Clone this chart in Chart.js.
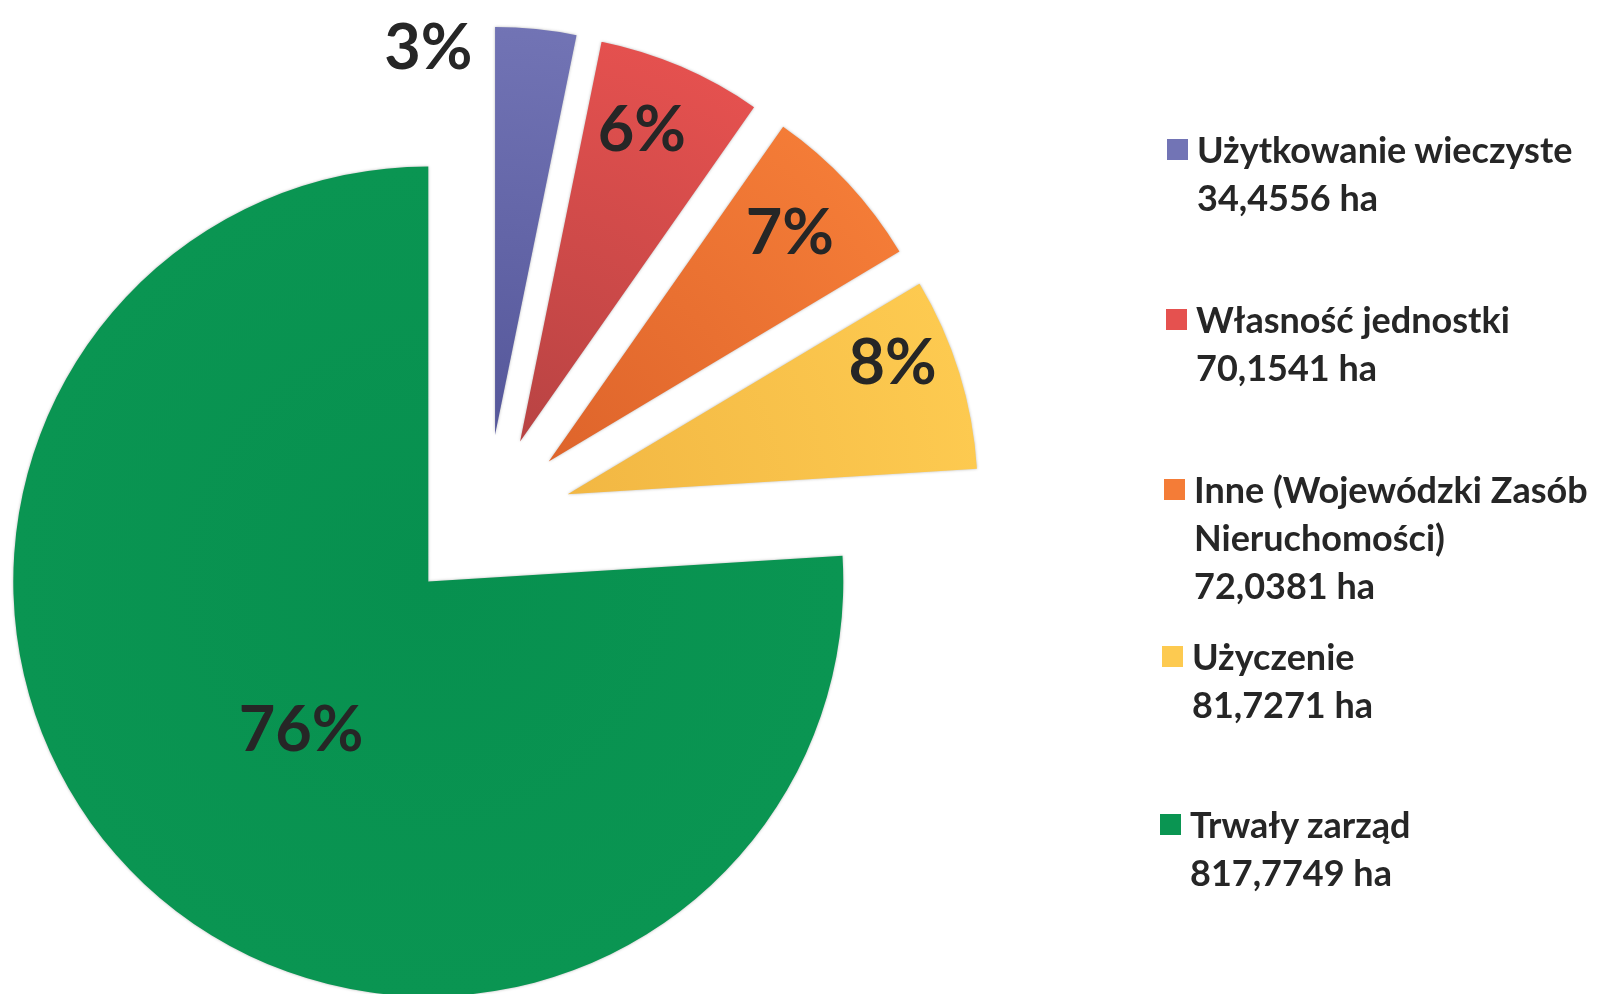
<!DOCTYPE html>
<html lang="pl">
<head>
<meta charset="utf-8">
<title>Struktura gruntów</title>
<script src="https://cdn.jsdelivr.net/npm/chart.js@4.4.1/dist/chart.umd.min.js"></script>
<style>
  html, body { margin: 0; padding: 0; background: #fff; }
  #wrap { position: relative; width: 1605px; height: 994px; overflow: hidden; }
  #wykres { position: absolute; left: 0; top: 0; }
  .leg {
    position: absolute;
    font-family: Lato, "Open Sans", sans-serif;
    font-weight: 700;
    font-size: 36px;
    line-height: 48px;
    color: #262626;
    white-space: nowrap;
  }
  .leg .sq { position: absolute; width: 21px; height: 21px; left: -30px; top: 14px; }
</style>
</head>
<body>
<div id="wrap">
  <canvas id="wykres" width="1605" height="994"></canvas>
  <div id="legenda"></div>
</div>
<script>
// dane z wykresu
const kategorie = ['Użytkowanie wieczyste', 'Własność jednostki', 'Inne (Wojewódzki Zasób Nieruchomości)', 'Użyczenie', 'Trwały zarząd'];
const powierzchnia = [34.4556, 70.1541, 72.0381, 81.7271, 817.7749]; // ha
const etykietyProcent = ['3%', '6%', '7%', '8%', '76%'];

// kolory: [przy środku, przy krawędzi]
const kolory = [
  ['#55579a', '#7274b5'],
  ['#b84343', '#e5514f'],
  ['#de642b', '#f47c37'],
  ['#f2b743', '#fdca50'],
  ['#07904f', '#0a9552']
];

// legenda (html) - linie tekstu i położenie
const legendaLinie = [
  ['Użytkowanie wieczyste'],
  ['Własność jednostki'],
  ['Inne (Wojewódzki Zasób', 'Nieruchomości)'],
  ['Użyczenie'],
  ['Trwały zarząd']
];
const legendaUklad = [
  { lewo: 1197, gora: 125 },
  { lewo: 1196, gora: 295 },
  { lewo: 1194, gora: 465 },
  { lewo: 1192, gora: 632 },
  { lewo: 1190, gora: 800 }
];

const ODSTEP = 85; // rozsunięcie kawałków

function ha(v) {
  return v.toFixed(4).replace('.', ',') + ' ha';
}

const legenda = document.getElementById('legenda');
kategorie.forEach((k, i) => {
  const el = document.createElement('div');
  el.className = 'leg';
  el.style.left = legendaUklad[i].lewo + 'px';
  el.style.top = legendaUklad[i].gora + 'px';
  const sq = document.createElement('span');
  sq.className = 'sq';
  sq.style.background = kolory[i][1];
  el.appendChild(sq);
  const linie = legendaLinie[i].concat([ha(powierzchnia[i])]);
  linie.forEach(t => {
    const d = document.createElement('div');
    d.textContent = t;
    el.appendChild(d);
  });
  legenda.appendChild(el);
});

// rysuje każdy kawałek przesunięty od środka (małe kawałki trochę krótsze)
const rozsuniecie = {
  id: 'rozsuniecie',
  beforeDatasetsDraw(chart, args, opts) {
    const ctx = chart.ctx;
    chart.getDatasetMeta(0).data.forEach((arc, i) => {
      const kat = (arc.startAngle + arc.endAngle) / 2;
      const r0 = arc.outerRadius;
      arc.outerRadius = r0 * opts.skala[i];
      ctx.save();
      ctx.translate(Math.cos(kat) * opts.odstep, Math.sin(kat) * opts.odstep);
      ctx.shadowColor = 'rgba(0,0,0,0.28)';
      ctx.shadowBlur = 3;
      arc.draw(ctx);
      ctx.restore();
      arc.outerRadius = r0;
    });
    return false;
  }
};

// etykiety procentowe
const etykiety = {
  id: 'etykiety',
  afterDraw(chart, args, opts) {
    const ctx = chart.ctx;
    ctx.save();
    ctx.font = opts.font;
    ctx.fillStyle = opts.color;
    ctx.textAlign = 'center';
    ctx.textBaseline = 'alphabetic';
    chart.getDatasetMeta(0).data.forEach((arc, i) => {
      const p = opts.polozenie[i];
      const kat = (arc.startAngle + arc.endAngle) / 2;
      const x0 = arc.x + Math.cos(kat) * ODSTEP;
      const y0 = arc.y + Math.sin(kat) * ODSTEP;
      const a = kat + p.kat * Math.PI / 180;
      const r = arc.outerRadius * p.promien;
      ctx.fillText(etykietyProcent[i], x0 + Math.cos(a) * r, y0 + Math.sin(a) * r + opts.przesuniecieY);
    });
    ctx.restore();
  }
};

const ctxW = document.getElementById('wykres');
new Chart(ctxW, {
  type: 'pie',
  data: {
    labels: kategorie,
    datasets: [{
      data: powierzchnia,
      borderWidth: 0,
      backgroundColor: (c) => {
        const area = c.chart.chartArea;
        const k = kolory[c.dataIndex];
        if (!area) return k[1];
        const cx = (area.left + area.right) / 2;
        const cy = (area.top + area.bottom) / 2;
        const r = Math.min(area.width, area.height) / 2;
        const g = c.chart.ctx.createRadialGradient(cx, cy, 0, cx, cy, r);
        g.addColorStop(0, k[0]);
        g.addColorStop(1, k[1]);
        return g;
      }
    }]
  },
  options: {
    responsive: false,
    animation: false,
    events: [],
    layout: {
      padding: { left: 71.5, top: 104.5, right: 703.5, bottom: 59.5 }
    },
    plugins: {
      legend: { display: false },
      tooltip: { enabled: false },
      rozsuniecie: { odstep: ODSTEP, skala: [0.983, 0.983, 0.985, 0.988, 1] },
      etykiety: {
        font: 'bold 63px Lato, "Open Sans", sans-serif',
        color: '#262626',
        przesuniecieY: 27,
        polozenie: [
          { promien: 0.96, kat: -15.4 },
          { promien: 0.82, kat: -2.3 },
          { promien: 0.81, kat: -1.2 },
          { promien: 0.85, kat: -5.7 },
          { promien: 0.46, kat: -1.4 }
        ]
      }
    }
  },
  plugins: [rozsuniecie, etykiety]
});
</script>
</body>
</html>
